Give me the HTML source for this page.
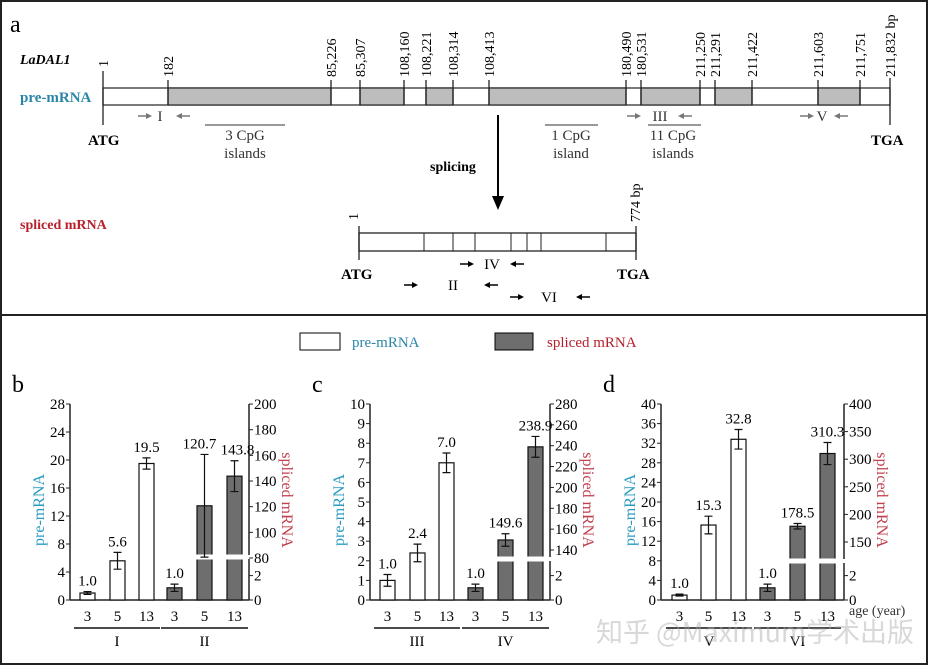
<!DOCTYPE html>
<html><head><meta charset="utf-8"><style>
html,body{margin:0;padding:0;background:#fff;}
svg{display:block;font-family:"Liberation Serif","Noto Serif CJK SC",serif;}
</style></head><body>
<svg id="fig" width="928" height="665" viewBox="0 0 928 665" xmlns="http://www.w3.org/2000/svg">
<rect x="1" y="1" width="926" height="663" fill="#fff" stroke="#222" stroke-width="2"/>
<line x1="1" y1="315" x2="927" y2="315" stroke="#222" stroke-width="2"/>
<text x="10" y="32" font-size="24">a</text>
<text x="20" y="64" font-size="14" font-weight="bold" font-style="italic">LaDAL1</text>
<text x="20" y="102" font-size="15" font-weight="bold" fill="#2a86a8">pre-mRNA</text>
<text x="20" y="229" font-size="14" font-weight="bold" fill="#b8202c">spliced mRNA</text>
<g id="gene"></g>
<g id="spl"></g>
<text x="430" y="171" font-size="14" font-weight="bold">splicing</text>
<line x1="498" y1="115" x2="498" y2="198" stroke="#000" stroke-width="2"/>
<polygon points="492,196 504,196 498,210" fill="#000"/>
<text x="88" y="145" font-size="15" font-weight="bold">ATG</text>
<text x="871" y="145" font-size="15" font-weight="bold">TGA</text>
<text x="341" y="279" font-size="15" font-weight="bold">ATG</text>
<text x="617" y="279" font-size="15" font-weight="bold">TGA</text>
<g font-size="15" text-anchor="middle" fill="#333">
<line x1="205" y1="125" x2="285" y2="125" stroke="#333"/>
<text x="245" y="140">3 CpG</text><text x="245" y="158">islands</text>
<line x1="545" y1="125" x2="598" y2="125" stroke="#333"/>
<text x="571" y="140">1 CpG</text><text x="571" y="158">island</text>
<line x1="648" y1="125" x2="701" y2="125" stroke="#333"/>
<text x="673" y="140">11 CpG</text><text x="673" y="158">islands</text>
</g>
<g id="primers"></g>
<rect x="300" y="333" width="40" height="17" fill="#fff" stroke="#000"/>
<text x="352" y="347" font-size="15" fill="#2a86a8">pre-mRNA</text>
<rect x="495" y="333" width="38" height="17" fill="#6e6e6e" stroke="#000"/>
<text x="547" y="347" font-size="15" fill="#b8202c">spliced mRNA</text>
<g id="charts"></g>
<text x="596" y="642" font-size="27" fill="#aaa" opacity="0.45" font-family="'Noto Sans CJK SC',sans-serif">知乎 @Maximum学术出版</text>
</svg>
<script>
// ---- chart data ----
const ages = ['3','5','13'];
const bPre = [1.0, 5.6, 19.5];
const bPreErr = [0.2, 1.2, 0.8];
const bSpl = [1.0, 120.7, 143.8];
const bSplErr = [0.3, 40, 12];
const cPre = [1.0, 2.4, 7.0];
const cPreErr = [0.3, 0.45, 0.5];
const cSpl = [1.0, 149.6, 238.9];
const cSplErr = [0.3, 6, 10];
const dPre = [1.0, 15.3, 32.8];
const dPreErr = [0.2, 1.8, 2.0];
const dSpl = [1.0, 178.5, 310.3];
const dSplErr = [0.3, 5, 20];
const bLeftTicks = [0,4,8,12,16,20,24,28];
const bRightTicks = [80,100,120,140,160,180,200];
const cLeftTicks = [0,1,2,3,4,5,6,7,8,9,10];
const cRightTicks = [140,160,180,200,220,240,260,280];
const dLeftTicks = [0,4,8,12,16,20,24,28,32,36,40];
const dRightTicks = [150,200,250,300,350,400];
const lowTicks = [0,2];
const groupNames = ['I','II','III','IV','V','VI'];
const geneSites = ['1','182','85,226','85,307','108,160','108,221','108,314','108,413','180,490','180,531','211,250','211,291','211,422','211,603','211,751','211,832 bp'];

const NS='http://www.w3.org/2000/svg';
function mk(parent, tag, attrs, txt){const e=document.createElementNS(NS,tag);for(const k in attrs)e.setAttribute(k,attrs[k]);if(txt!==undefined)e.textContent=txt;parent.appendChild(e);return e;}

// gene diagram
const gene=document.getElementById('gene');
const siteX=[103,168,331,360,404,426,453,489,626,641,700,715,752,818,860,890];
const gray=[[1,2],[3,4],[5,6],[7,8],[9,10],[11,12],[13,14]];
let r=mk(gene,'rect',{x:103,y:88,width:787,height:17,fill:'#fff',stroke:'#333','stroke-width':1.3});

gray.forEach(g=>{let s=mk(gene,'rect',{x:siteX[g[0]],y:88,width:siteX[g[1]]-siteX[g[0]],height:17,fill:'#bdbdbd',stroke:'#333','stroke-width':1.3});
});
siteX.forEach((x,i)=>{
  const top=(i===0||i===15)?78:80, bot=(i===0||i===15)?125:105;
  let l=mk(gene,'line',{x1:x,y1:i===0?71:top,x2:x,y2:bot,stroke:'#222','stroke-width':1.3});
  
  let t=mk(gene,'text',{x:0,y:0,'font-size':14,transform:`translate(${x+5},${i===0?67:77}) rotate(-90)`},geneSites[i]);
  
});
// spliced diagram
const spl=document.getElementById('spl');
let sr=mk(spl,'rect',{x:359,y:233,width:277,height:18,fill:'#fff',stroke:'#222','stroke-width':1.3});

[424,453,475,511,527,541,606].forEach(x=>{let l=mk(spl,'line',{x1:x,y1:233,x2:x,y2:251,stroke:'#222'});});
[[359,226,260],[636,226,260]].forEach(a=>{let l=mk(spl,'line',{x1:a[0],y1:a[1],x2:a[0],y2:a[2],stroke:'#222','stroke-width':1.3});});
let t1=mk(spl,'text',{'font-size':14,transform:'translate(358,220) rotate(-90)'},'1');
let t2=mk(spl,'text',{'font-size':14,transform:'translate(640,222) rotate(-90)'},'774 bp');

// primers
const pr=document.getElementById('primers');
function primer(xl,xr,y,lab,col,lx){
  const g=mk(pr,'g',{});
  
  mk(g,'line',{x1:xl,y1:y,x2:xl+9,y2:y,stroke:col,'stroke-width':1.5});
  mk(g,'polygon',{points:`${xl+14},${y} ${xl+8},${y-3} ${xl+8},${y+3}`,fill:col});
  mk(g,'line',{x1:xr-9,y1:y,x2:xr,y2:y,stroke:col,'stroke-width':1.5});
  mk(g,'polygon',{points:`${xr-14},${y} ${xr-8},${y-3} ${xr-8},${y+3}`,fill:col});
  mk(g,'text',{x:lx,y:y+5,'font-size':15,'text-anchor':'middle',fill:col==='#000'?'#000':'#333'},lab);
}
primer(138,190,116,'I','#777',160);
primer(627,692,116,'III','#777',660);
primer(800,848,116,'V','#777',822);
primer(460,524,264,'IV','#000',492);
primer(404,498,285,'II','#000',453);
primer(510,590,297,'VI','#000',549);

// charts
const charts=document.getElementById('charts');
function panel(o){
  const g=mk(charts,'g',{});
  
  const y0=600, yTop=404;
  const yL=v=>y0-(v/o.lmax)*(y0-yTop);
  const yR=v=>v<=3?y0-v*12.2:o.yA-(v-o.vA)*o.k;
  let lt=mk(g,'text',{x:o.lx-58,y:392,'font-size':24},o.id);
  let al=mk(g,'line',{x1:o.lx,y1:yTop,x2:o.lx,y2:y0,stroke:'#222','stroke-width':1.5});
  let ar=mk(g,'line',{x1:o.rx,y1:yTop,x2:o.rx,y2:y0,stroke:'#222','stroke-width':1.5});
  let ax=mk(g,'line',{x1:o.lx,y1:y0,x2:o.rx,y2:y0,stroke:'#222','stroke-width':1.5});
  let bk=mk(g,'rect',{x:o.rx-3,y:o.gap-2,width:6,height:4,fill:'#fff'});
  o.lt.forEach(v=>{const y=yL(v);
    let t=mk(g,'line',{x1:o.lx-4,y1:y,x2:o.lx,y2:y,stroke:'#222'});
    let s=mk(g,'text',{x:o.lx-5,y:y+5,'font-size':15,'text-anchor':'end'},String(v));});
  o.rt.concat(lowTicks).forEach(v=>{const y=yR(v);
    let t=mk(g,'line',{x1:o.rx,y1:y,x2:o.rx+4,y2:y,stroke:'#222'});
    let s=mk(g,'text',{x:o.rx+5,y:y+5,'font-size':15},String(v));});
  let yt=mk(g,'text',{'font-size':16,fill:'#2a9bbf','text-anchor':'middle',transform:`translate(${o.lx-26},${510}) rotate(-90)`},'pre-mRNA');
  
  let yt2=mk(g,'text',{'font-size':16,fill:'#c0404e','text-anchor':'middle',transform:`translate(${o.rx+33},${500}) rotate(90)`},'spliced mRNA');
  
  const bw=15;
  function bars(vals,errs,xs,scale,fill,name){
    vals.forEach((v,i)=>{const x=xs[i];const top=scale(v);
      let b=mk(g,'rect',{x:x,y:top,width:bw,height:y0-top,fill:fill,stroke:'#111','stroke-width':1.2});
      
      if(fill!=='#fff'&&v>3){let gp=mk(g,'rect',{x:x-1,y:o.gap-2.5,width:bw+2,height:5,fill:'#fff'});}
      const et=scale(v+errs[i]), eb=scale(Math.max(v-errs[i],0)), cx=x+bw/2;
      let e=mk(g,'path',{d:`M${cx},${et}V${eb}M${cx-4},${et}H${cx+4}M${cx-4},${eb}H${cx+4}`,stroke:'#111','stroke-width':1.2,fill:'none'});
      
      let l=mk(g,'text',{x:cx+(o.lbl&&o.lbl[name+i]||0),y:et-6,'font-size':15,'text-anchor':'middle'},v.toFixed(1));
      
      let a=mk(g,'text',{x:cx,y:621,'font-size':15,'text-anchor':'middle'},ages[i]);
      
    });
  }
  bars(o.pre,o.preE,o.xp,yL,'#fff','pre');
  bars(o.spl,o.splE,o.xs,yR,'#6e6e6e','spliced');
  [[o.xp,o.g1],[o.xs,o.g2]].forEach(p=>{const x1=p[0][0]-6,x2=p[0][2]+bw+6;
    let gl=mk(g,'line',{x1:x1,y1:628,x2:x2,y2:628,stroke:'#111','stroke-width':1.5});
    let gt=mk(g,'text',{x:(x1+x2)/2,y:646,'font-size':15,'text-anchor':'middle'},p[1]);});
}
panel({id:'b',lx:70,rx:249,lmax:28,lt:bLeftTicks,rt:bRightTicks,vA:80,yA:558,k:1.283,gap:557,
  pre:bPre,preE:bPreErr,spl:bSpl,splE:bSplErr,xp:[80,110,139],xs:[167,197,227],g1:groupNames[0],g2:groupNames[1],lbl:{spliced1:-5,spliced2:3}});
panel({id:'c',lx:370,rx:550,lmax:10,lt:cLeftTicks,rt:cRightTicks,vA:140,yA:550,k:1.043,gap:559,
  pre:cPre,preE:cPreErr,spl:cSpl,splE:cSplErr,xp:[380,410,439],xs:[468,498,528],g1:groupNames[2],g2:groupNames[3]});
panel({id:'d',lx:661,rx:844,lmax:40,lt:dLeftTicks,rt:dRightTicks,vA:150,yA:542,k:0.552,gap:561,
  pre:dPre,preE:dPreErr,spl:dSpl,splE:dSplErr,xp:[672,701,731],xs:[760,790,820],g1:groupNames[4],g2:groupNames[5]});
</script>
<div style="position:absolute;left:849px;top:604px;font:14px 'Liberation Serif',serif;color:#333">age (year)</div>
</body></html>
